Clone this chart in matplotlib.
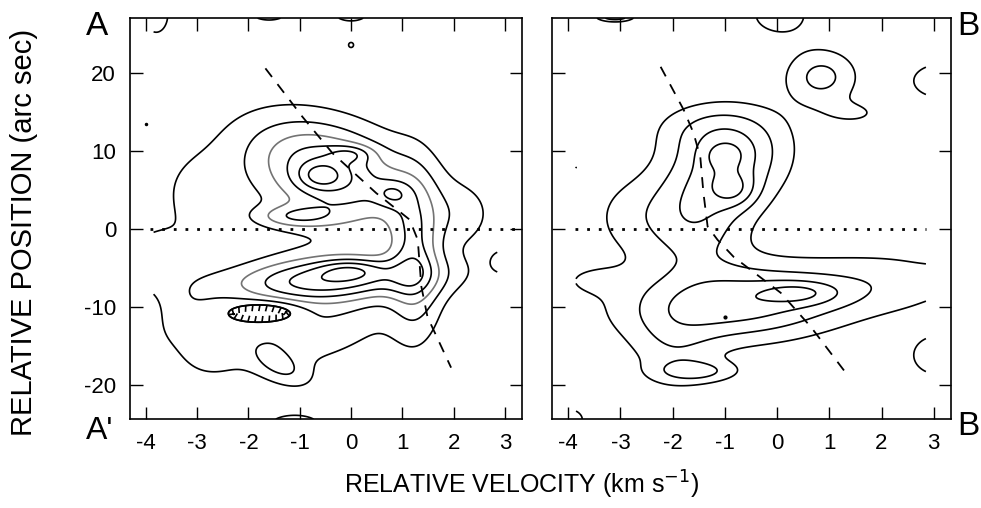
import numpy as np
import matplotlib
matplotlib.use("Agg")
import matplotlib.pyplot as plt
from matplotlib import patheffects

plt.rcParams['font.family'] = ['Liberation Sans', 'DejaVu Sans']

# contour levels (arbitrary intensity units)
levels = [1, 2, 3, 4, 5, 6]
a_colors = ['k', 'k', '0.45', 'k', 'k', 'k']
b_colors = ['k', 'k', 'k', 'k', 'k', 'k']

# emission components: centre, widths, correlation, amplitude
a_v0 = [-0.4, -0.6, 0.0, 0.8, 1.25, -0.4, 0.0, -1.1, -0.7, -3.0, -1.35, 2.2, -1.6, -1.3,
        -3.9, -3.2, -2.8, -3.8, -1.6, 0.0, -1.1, 3.0, 0.0]
a_p0 = [7.5, 6.8, 9.6, 4.5, -3.0, -6.5, -5.2, 1.6, -1.0, 5.0, -17.8, 2.0, -10.6, -13.0,
        -4.0, -10.0, -15.5, 27.5, 28.0, 27.8, -25.2, -4.2, 23.6]
a_sv = [1.1, 0.3, 0.3, 0.25, 0.35, 1.4, 0.45, 0.55, 1.6, 0.6, 0.4, 0.45, 0.5, 1.3,
        0.5, 0.5, 0.4, 0.25, 0.4, 0.35, 0.45, 0.2, 0.06]
a_sp = [4.5, 1.2, 0.8, 1.2, 7.0, 2.0, 1.0, 1.0, 9.5, 4.0, 1.8, 3.0, 1.1, 4.0,
        3.0, 3.5, 2.5, 2.5, 1.3, 1.2, 1.2, 1.2, 0.4]
a_rho = [-0.4, 0, 0, 0, 0, 0.2, 0, 0, 0, 0, -0.5, 0, 0, 0.4,
         0, 0.5, 0, 0, 0, 0, 0, 0, 0]
a_amp = [4.0, 1.8, 1.5, 1.5, 3.0, 4.0, 1.5, 2.0, 1.6, 0.9, 1.5, 1.0, -2.0, 1.3,
         1.3, 1.0, 0.8, 1.5, 1.5, 1.5, 1.6, 1.4, 1.3]

# components for the B-B' panel
b_v0 = [-0.9, -1.3, -1.0, -0.8, -1.6, -2.9, -0.8, 0.45, 2.2, 3.1, -2.0, -1.5, -3.6,
        0.85, 1.5, -3.1, 0.05, 3.15, 3.1, -4.0, -4.0]
b_p0 = [8.5, 13.0, 9.5, 5.0, 1.0, 1.5, -9.5, -8.2, -6.8, -6.5, -16.0, -18.3, -6.5,
        19.5, 14.8, 27.3, 27.5, 19.0, -16.3, 7.9, -24.5]
b_sv = [0.8, 0.8, 0.3, 0.3, 0.7, 0.6, 1.5, 0.55, 1.2, 0.3, 0.6, 0.55, 0.5,
        0.5, 0.45, 0.25, 0.5, 0.45, 0.4, 0.18, 0.3]
b_sp = [4.2, 2.5, 1.3, 1.6, 4.5, 4.0, 3.5, 1.1, 3.0, 1.0, 4.0, 1.0, 1.5,
        2.6, 1.2, 0.5, 2.3, 1.8, 2.0, 0.8, 1.5]
b_rho = [0.15, 0, 0, 0, 0, 0, 0.1, 0, 0, 0, 0, 0, 0,
         0, 0, 0, 0, 0, 0, 0, 0]
b_amp = [3.0, 1.3, 1.0, 1.5, 2.4, 1.0, 3.6, 1.6, 1.3, 0.8, 1.2, 1.8, 0.8,
         2.3, 1.0, 3.0, 1.5, 2.0, 2.0, 1.3, 1.5]

# isolated single-pixel spots
a_spot_v, a_spot_p = [-4.0], [13.5]
b_spot_v, b_spot_p = [-1.0], [-11.3]

# dashed velocity curves
a_curve_v = [-1.67, -0.95, -0.36, 0.49, 1.14, 1.30, 1.37, 1.49, 1.95]
a_curve_p = [20.6, 14.4, 9.7, 4.6, 1.2, -1.4, -7.4, -11.3, -17.8]
b_curve_v = [-2.23, -1.79, -1.60, -1.47, -1.41, -1.33, -1.14, -0.83, 0.07, 0.65, 1.32]
b_curve_p = [20.8, 15.3, 12.3, 9.2, 4.6, 0.3, -1.4, -3.6, -8.2, -12.6, -18.5]

# dip (hatched contour) box in panel A
dip_box = (-2.8, -0.5, -13.5, -8.0)

v = np.linspace(-3.85, 2.85, 500)
p = np.linspace(-24.4, 27.05, 600)
V, P = np.meshgrid(v, p)


def build_field(v0s, p0s, svs, sps, rhos, amps):
    z = np.zeros_like(V)
    for v0, p0, sv, sp, rho, amp in zip(v0s, p0s, svs, sps, rhos, amps):
        u = (V - v0) / sv
        w = (P - p0) / sp
        z += amp * np.exp(-(u**2 - 2 * rho * u * w + w**2) / (2 * (1 - rho**2)))
    return z


za = build_field(a_v0, a_p0, a_sv, a_sp, a_rho, a_amp)
zb = build_field(b_v0, b_p0, b_sv, b_sp, b_rho, b_amp)

fig = plt.figure(figsize=(9.81, 5.08), dpi=100)
ax1 = fig.add_axes([0.1325, 0.175, 0.3995, 0.7894])
ax2 = fig.add_axes([0.5627, 0.175, 0.4067, 0.7894])

for ax, z, cols in [(ax1, za, a_colors), (ax2, zb, b_colors)]:
    ax.contour(V, P, z, levels=levels, colors=cols, linewidths=1.2)
    ax.set_xlim(-4.31, 3.33)
    ax.set_ylim(-24.4, 27.05)
    ax.set_xticks(range(-4, 4))
    ax.set_yticks([-20, -10, 0, 10, 20])
    ax.tick_params(direction='in', length=9, width=1, top=True, right=True,
                   labelsize=16, pad=10)
    for s in ax.spines.values():
        s.set_linewidth(1.2)

# hatched (depression) contour, ticks pointing inwards
mask = (V < dip_box[0]) | (V > dip_box[1]) | (P < dip_box[2]) | (P > dip_box[3])
cs = ax1.contour(V, P, np.ma.masked_where(mask, za), levels=[1], colors='k', linewidths=1.2)
cs.set_path_effects([patheffects.withTickedStroke(angle=-100, length=0.9, spacing=5)])

ax1.plot(a_spot_v, a_spot_p, 'k.', ms=3)
ax2.plot(b_spot_v, b_spot_p, 'k.', ms=4)

ax1.plot(a_curve_v, a_curve_p, color='k', lw=1.3, ls=(0, (6, 5)))
ax2.plot(b_curve_v, b_curve_p, color='k', lw=1.3, ls=(0, (6, 5)))
ax1.plot([-3.92, 3.33], [0, 0], color='k', lw=2, ls=(0, (1, 3.2)))
ax2.plot([-3.87, 2.85], [0, 0], color='k', lw=2, ls=(0, (1, 3.2)))

ax2.set_yticklabels([])
ax1.set_yticklabels(['-20', '-10', '0', '10', '20'])
ax1.set_xticklabels([str(t) for t in range(-4, 4)])
ax2.set_xticklabels([str(t) for t in range(-4, 4)])

fig.text(0.099, 0.978, 'A', fontsize=24, ha='center', va='top')
fig.text(0.102, 0.182, "A'", fontsize=23, ha='center', va='top')
fig.text(0.987, 0.978, 'B', fontsize=24, ha='center', va='top')
fig.text(0.987, 0.19, 'B', fontsize=24, ha='center', va='top')

fig.text(0.0245, 0.543, 'RELATIVE POSITION (arc sec)', fontsize=21, rotation=90,
         ha='center', va='center')
fig.text(0.532, 0.045, 'RELATIVE VELOCITY (km s$^{-1}$)', fontsize=18,
         ha='center', va='center')

fig.savefig('out.png', dpi=100)
